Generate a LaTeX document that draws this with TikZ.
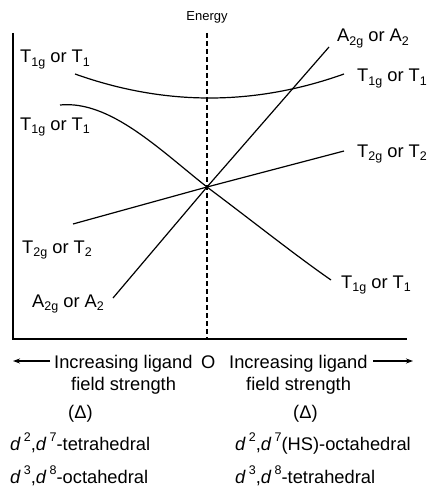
\documentclass[tikz,border=0pt]{standalone}
\usepackage{fontspec}
\setmainfont{Liberation Sans}
\usetikzlibrary{arrows.meta}
\newcommand\lsub[1]{\raisebox{-0.35ex}{\fontsize{12.5}{13}\selectfont #1}}
\newcommand\lsup[1]{\raisebox{0.85ex}{\fontsize{12.5}{13}\selectfont #1}}
\newcommand\dd{\textit{d}\,}
\begin{document}
\begin{tikzpicture}[x=1pt,y=-1pt,
  font=\fontsize{18.3}{22}\selectfont,
  lbl/.style={anchor=base west, inner sep=0pt},
  curve/.style={line width=1.2pt},
  axis/.style={line width=1.4pt},
  arr/.style={line width=1.1pt, -{Stealth[length=7pt,width=5pt]}}]
\useasboundingbox (0,0) rectangle (428,492);

% axes
\coordinate (top) at (13,33);
\coordinate (orig) at (13,339);
\coordinate (xend) at (407,339);
\draw[axis] (top) -- (orig) -- (xend);

% dashed centre line
\coordinate (dtop) at (207,33);
\coordinate (dbot) at (207,339);
\draw[line width=1.2pt, dash pattern=on 5pt off 3pt] (dtop) -- (dbot);
\node[font=\fontsize{13}{15}\selectfont, inner sep=0pt] (energy) at (207,17) {Energy};

% curves
\coordinate (c) at (207,187);
\coordinate (t1ul) at (75,74);
\coordinate (t1ur) at (344,74);
\coordinate (t1ll) at (60,105);
\coordinate (t1lr) at (331,280);
\coordinate (t2l) at (73,224);
\coordinate (t2r) at (344,151);
\coordinate (a2l) at (113,298);
\coordinate (a2r) at (329,47);

\draw[curve] (t1ul) .. controls (164.7,106) and (254.3,106) .. (t1ur);
\draw[curve] (t1ll) .. controls (110,100) and (160,150) .. (c)
             .. controls (255,223) and (295,255) .. (t1lr);
\draw[curve] (t2l) -- (c) -- (t2r);
\draw[curve] (a2l) -- (c) -- (a2r);

% left labels
\node[lbl] (L1) at (20,63) {T\lsub{1g} or T\lsub{1}};
\node[lbl] (L2) at (20,130) {T\lsub{1g} or T\lsub{1}};
\node[lbl] (L3) at (22,253) {T\lsub{2g} or T\lsub{2}};
\node[lbl] (L4) at (32,307) {A\lsub{2g} or A\lsub{2}};

% right labels
\node[lbl] (R1) at (337,42) {A\lsub{2g} or A\lsub{2}};
\node[lbl] (R2) at (357,82) {T\lsub{1g} or T\lsub{1}};
\node[lbl] (R3) at (357,157) {T\lsub{2g} or T\lsub{2}};
\node[lbl] (R4) at (341,288) {T\lsub{1g} or T\lsub{1}};

% axis captions
\coordinate (la0) at (50,361);
\coordinate (la1) at (13,361);
\draw[arr] (la0) -- (la1);
\coordinate (ra0) at (373,361);
\coordinate (ra1) at (413,361);
\draw[arr] (ra0) -- (ra1);
\node[lbl] (il) at (54,368) {Increasing ligand};
\node[lbl] (o) at (201,368) {O};
\node[lbl] (ir) at (229,368) {Increasing ligand};
\node[lbl] (fl) at (71,390) {field strength};
\node[lbl] (fr) at (246,390) {field strength};
\node[lbl] (dl) at (68,418) {(Δ)};
\node[lbl] (dr) at (293,418) {(Δ)};

% configurations
\node[lbl] (c1) at (10,450) {\dd\lsup{2},\dd\lsup{7}-tetrahedral};
\node[lbl] (c2) at (10,483) {\dd\lsup{3},\dd\lsup{8}-octahedral};
\node[lbl] (c3) at (235,450) {\dd\lsup{2},\dd\lsup{7}(HS)-octahedral};
\node[lbl] (c4) at (235,483) {\dd\lsup{3},\dd\lsup{8}-tetrahedral};
\end{tikzpicture}
\end{document}
